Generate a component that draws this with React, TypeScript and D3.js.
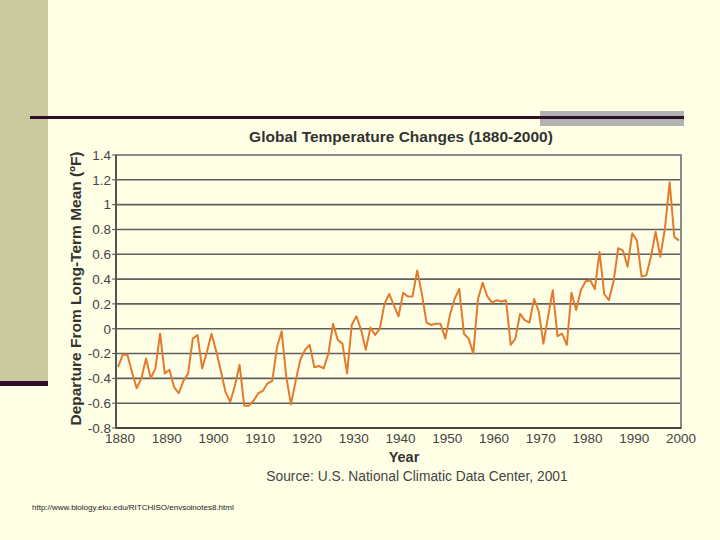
import * as d3 from "d3";

// Departure from long-term mean (°F), one value per year starting 1880
const startYear = 1880;
const anomalies = [
  -0.31, -0.21, -0.21, -0.35, -0.48, -0.4, -0.24, -0.4, -0.32, -0.04,
  -0.36, -0.33, -0.47, -0.52, -0.42, -0.36, -0.08, -0.05, -0.32, -0.19,
  -0.04, -0.18, -0.34, -0.51, -0.59, -0.46, -0.29, -0.62, -0.62, -0.58,
  -0.52, -0.5, -0.44, -0.42, -0.15, -0.02, -0.39, -0.61, -0.42, -0.25,
  -0.17, -0.13, -0.31, -0.3, -0.32, -0.2, 0.04, -0.09, -0.12, -0.36,
  0.03, 0.1, -0.01, -0.17, 0.01, -0.05, 0.0, 0.2, 0.28, 0.19,
  0.1, 0.29, 0.26, 0.26, 0.47, 0.28, 0.05, 0.03, 0.04, 0.04,
  -0.08, 0.11, 0.24, 0.32, -0.04, -0.08, -0.2, 0.24, 0.37, 0.26,
  0.21, 0.23, 0.22, 0.23, -0.13, -0.08, 0.12, 0.07, 0.05, 0.24,
  0.14, -0.12, 0.1, 0.31, -0.06, -0.04, -0.13, 0.29, 0.15, 0.31,
  0.38, 0.39, 0.32, 0.62, 0.28, 0.23, 0.38, 0.65, 0.63, 0.5,
  0.77, 0.71, 0.42, 0.43, 0.58, 0.78, 0.58, 0.81, 1.18, 0.74,
  0.71,
];
const yTicks = [1.4, 1.2, 1, 0.8, 0.6, 0.4, 0.2, 0, -0.2, -0.4, -0.6, -0.8];
const xTicks = [1880, 1890, 1900, 1910, 1920, 1930, 1940, 1950, 1960, 1970, 1980, 1990, 2000];

const font = "'Liberation Sans', Arial, sans-serif";

export default function App() {
  const left = 116;
  const right = 681;
  const top = 155;
  const bottom = 428;

  const x = d3.scaleLinear().domain([1880, 2000]).range([118, 679]);
  const y = d3.scaleLinear().domain([-0.8, 1.4]).range([bottom, top]);

  const line = d3
    .line<number>()
    .x((_, i) => x(startYear + i))
    .y((d) => y(d));

  return (
    <svg
      width={720}
      height={540}
      style={{ position: "absolute", left: 0, top: 0, fontFamily: font }}
    >
      <rect width={720} height={540} fill="#ffffe6" />

      {/* slide decoration */}
      <rect x={0} y={0} width={48} height={382} fill="#cbca9e" />
      <rect x={0} y={381} width={48} height={5} fill="#2e0f2a" />
      <rect x={540} y={111} width={144} height={15} fill="#b2b2b2" />
      <rect x={30} y={116} width={654} height={3} fill="#2e0f2a" />

      <text
        x={401}
        y={142}
        textAnchor="middle"
        fontWeight="bold"
        fontSize={15.5}
        fill="#333"
      >
        Global Temperature Changes (1880-2000)
      </text>

      {/* gridlines */}
      {yTicks.map((t) => (
        <line
          key={"g" + t}
          x1={left}
          x2={right}
          y1={y(t)}
          y2={y(t)}
          stroke="#5f5f5f"
          strokeWidth={1.6}
        />
      ))}

      {/* frame */}
      <rect
        x={left}
        y={top}
        width={right - left}
        height={bottom - top}
        fill="none"
        stroke="#8a8a8a"
        strokeWidth={2}
      />
      <line x1={left} x2={left} y1={top} y2={bottom} stroke="#555" strokeWidth={2} />
      <line x1={left} x2={right} y1={bottom} y2={bottom} stroke="#444" strokeWidth={2} />

      {/* y ticks */}
      {yTicks.map((t) => (
        <g key={"y" + t}>
          <line x1={left - 4} x2={left} y1={y(t)} y2={y(t)} stroke="#555" strokeWidth={1} />
          <text
            x={left - 5}
            y={y(t)}
            dy="0.36em"
            textAnchor="end"
            fontSize={13.5}
            fill="#444"
          >
            {String(t)}
          </text>
        </g>
      ))}

      {/* x ticks */}
      {xTicks.map((t) => (
        <text
          key={"x" + t}
          x={x(t) + 2}
          y={443}
          textAnchor="middle"
          fontSize={13.5}
          fill="#444"
        >
          {t}
        </text>
      ))}

      <path
        d={line(anomalies) || ""}
        fill="none"
        stroke="#e37a2e"
        strokeWidth={2}
        strokeLinejoin="round"
      />

      <text
        transform={`translate(81,${(top + bottom) / 2 - 3}) rotate(-90)`}
        textAnchor="middle"
        fontWeight="bold"
        fontSize={15.5}
        fill="#333"
      >
        Departure From Long-Term Mean (ºF)
      </text>

      <text x={404} y={462} textAnchor="middle" fontWeight="bold" fontSize={14.5} fill="#333">
        Year
      </text>
      <text x={417} y={481} textAnchor="middle" fontSize={13.8} fill="#444">
        Source: U.S. National Climatic Data Center, 2001
      </text>

      <text x={32} y={510} fontSize={8} fill="#222">
        http://www.biology.eku.edu/RITCHISO/envsoinotes8.html
      </text>
    </svg>
  );
}
